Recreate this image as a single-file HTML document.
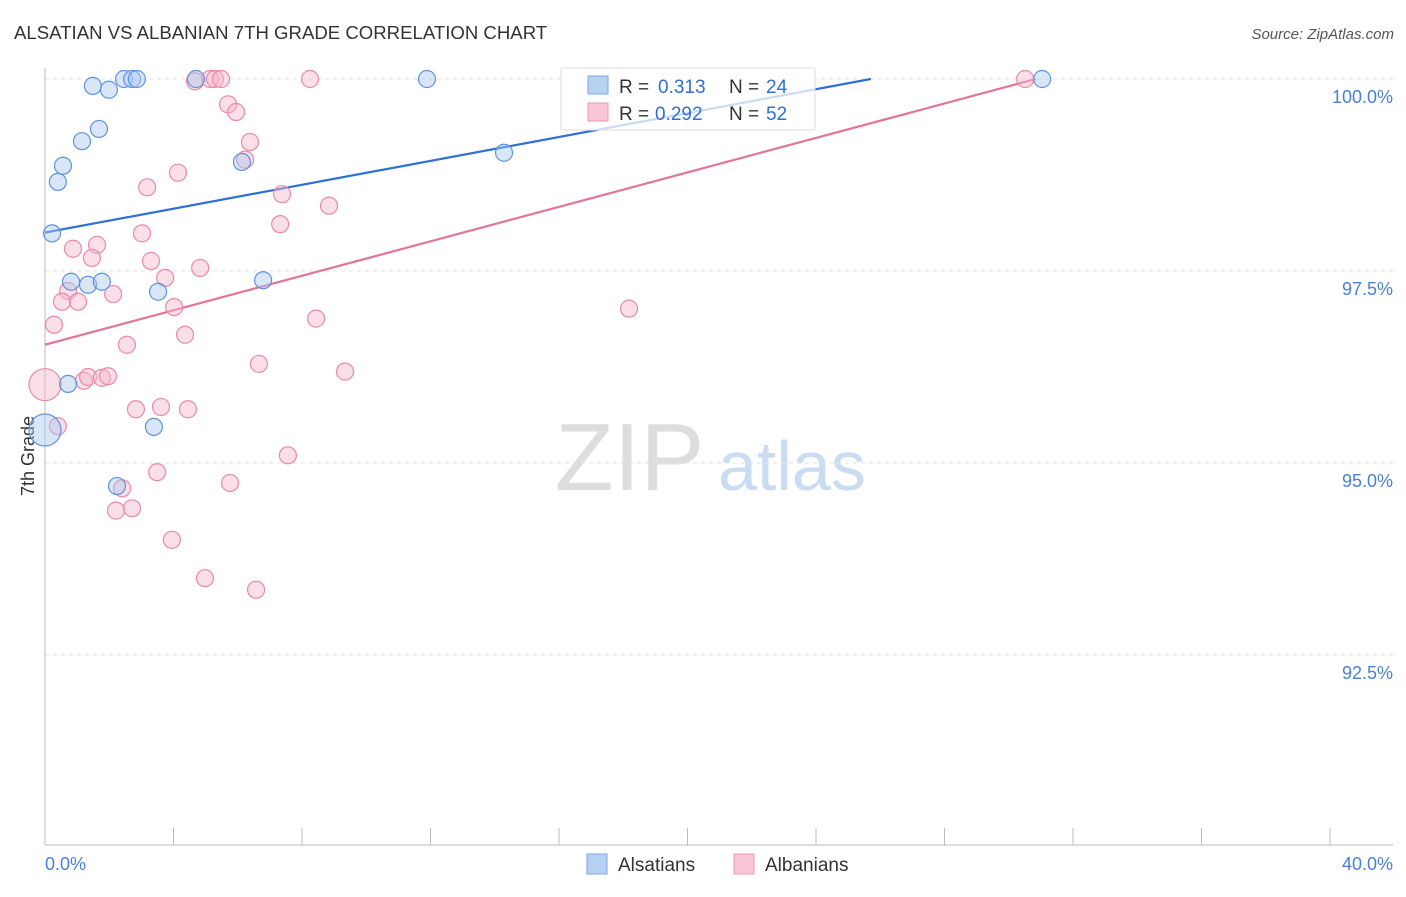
<!DOCTYPE html>
<html><head><meta charset="utf-8">
<style>
body{margin:0;background:#fff;font-family:"Liberation Sans",sans-serif;}
svg text{font-family:"Liberation Sans",sans-serif;}
</style></head>
<body>
<svg id="chart" width="1406" height="892">
<text x="14" y="39" font-size="18.6" fill="#333">ALSATIAN VS ALBANIAN 7TH GRADE CORRELATION CHART</text>
<text x="1394" y="39" font-size="15" fill="#555" font-style="italic" text-anchor="end">Source: ZipAtlas.com</text>
<text x="555" y="490" font-size="96" fill="#ddd" font-family="Liberation Serif,serif">ZIP</text>
<text x="718" y="490" font-size="70" fill="#c9dcf2">atlas</text>
<text transform="translate(34,456) rotate(-90)" font-size="18" fill="#333" text-anchor="middle">7th Grade</text>
<g id="grid"></g><g id="lines"></g><g id="pts"></g>
<g>
<rect x="561" y="68" width="254" height="62" fill="#fff" fill-opacity="0.75" stroke="#ddd"/>
<rect x="588" y="76" width="20" height="18" fill="#b7d1f3" stroke="#7da7e0"/>
<rect x="588" y="103" width="20" height="18" fill="#f8c6d6" stroke="#eb97b2"/>
<text x="619" y="93" font-size="19" fill="#333">R =</text>
<text x="658" y="93" font-size="19" fill="#2f6fd6">0.313</text>
<text x="729" y="93" font-size="19" fill="#333">N =</text>
<text x="766" y="93" font-size="19" fill="#2f6fd6">24</text>
<text x="619" y="120" font-size="19" fill="#333">R =</text>
<text x="655" y="120" font-size="19" fill="#2f6fd6">0.292</text>
<text x="729" y="120" font-size="19" fill="#333">N =</text>
<text x="766" y="120" font-size="19" fill="#2f6fd6">52</text>
</g>
<g>
<rect x="587" y="854" width="20" height="20" fill="#b7d1f3" stroke="#7da7e0"/>
<text x="618" y="871" font-size="19" fill="#333">Alsatians</text>
<rect x="734" y="854" width="20" height="20" fill="#f8c6d6" stroke="#eb97b2"/>
<text x="765" y="871" font-size="19" fill="#333">Albanians</text>
</g>
<text x="45" y="870" font-size="18" fill="#4a7fd6">0.0%</text>
<text x="1393" y="870" font-size="18" fill="#4a7fd6" text-anchor="end">40.0%</text>
</svg>
<script>
const yTicks=[100,97.5,95,92.5];
const yTickLabels=["100.0%","97.5%","95.0%","92.5%"];
const xTicks=[0,4,8,12,16,20,24,28,32,36,40];
const blueX=[0.22,0.40,0.56,1.15,1.49,1.68,1.99,2.46,2.71,2.86,4.70,6.13,11.89,14.29,31.04,0.81,1.34,1.77,3.52,6.79,0.72,3.39,2.24,0];
const blueY=[97.99,98.66,98.87,99.19,99.91,99.35,99.86,100,100,100,100,98.92,100,99.04,100,97.36,97.32,97.36,97.23,97.38,96.03,95.47,94.70,95.43];
const pinkX=[4.67,5.14,5.29,5.48,8.25,30.51,5.70,5.95,6.38,6.23,4.14,3.18,7.38,8.84,7.32,3.02,0.87,1.62,1.46,3.30,3.74,4.83,0.72,0.53,1.03,2.12,4.02,0.28,8.44,18.18,4.36,2.55,6.66,9.34,1.21,1.34,1.77,1.96,0,2.83,3.61,4.45,0.40,7.56,3.49,5.76,2.40,2.21,2.71,3.95,4.98,6.57];
const pinkY=[99.97,100,100,100,100,100,99.67,99.57,99.18,98.95,98.78,98.59,98.50,98.35,98.11,97.99,97.79,97.84,97.67,97.63,97.41,97.54,97.24,97.10,97.10,97.20,97.03,96.80,96.88,97.01,96.67,96.54,96.29,96.19,96.07,96.12,96.11,96.13,96.02,95.70,95.73,95.70,95.48,95.10,94.88,94.74,94.67,94.38,94.41,94.00,93.50,93.35];
const blueLine=[98.0,0.0778];
const pinkLine=[96.54,0.1122];
const NS="http://www.w3.org/2000/svg";
const sx=v=>45+(v/40)*1285;
const sy=v=>79+(100-v)/2.5*192;
function mk(t,a,p){const e=document.createElementNS(NS,t);for(const k in a)e.setAttribute(k,a[k]);p.appendChild(e);return e;}
const grid=document.getElementById('grid');
yTicks.forEach((t,i)=>{
 const l=mk('line',{x1:45,x2:1393,y1:sy(t),y2:sy(t),stroke:'#e2e2e2','stroke-dasharray':'4,4'},grid);
 
 
 const tx=mk('text',{x:1393,y:sy(t)+24,'font-size':18,fill:'#4a7fd6','text-anchor':'end'},grid);
 tx.textContent=yTickLabels[i];
 
 
});
const ax=mk('line',{x1:45,x2:45,y1:68,y2:845,stroke:'#bbb'},grid);


const bx=mk('line',{x1:45,x2:1393,y1:845,y2:845,stroke:'#bbb'},grid);


xTicks.forEach(t=>{
 const l=mk('line',{x1:sx(t),x2:sx(t),y1:828,y2:845,stroke:'#bbb'},grid);
 
 
});
const pts=document.getElementById('pts');
function dots(X,Y,fill,stroke,name){
 X.forEach((x,i)=>{
  const r=(x===0)?16:8.5;
  const c=mk('circle',{cx:sx(x),cy:sy(Y[i]),r:r,fill:fill,'fill-opacity':0.45,stroke:stroke,'stroke-width':1.2},pts);
  
  
 });
}
dots(pinkX,pinkY,'#f6b8cb','#e88aa9','albanian-point');
dots(blueX,blueY,'#a9c8f0','#5e93dc','alsatian-point');
const lines=document.getElementById('lines');
function reg(p,col,name){
 const xEnd=Math.min(40,(100-p[0])/p[1]);
 const l=mk('line',{x1:sx(0),y1:sy(p[0]),x2:sx(xEnd),y2:sy(p[0]+p[1]*xEnd),stroke:col,'stroke-width':2.2},lines);
 
 
}
reg(blueLine,'#2f6fd6','alsatian-trendline');
reg(pinkLine,'#e5729a','albanian-trendline');
</script>
</body></html>
